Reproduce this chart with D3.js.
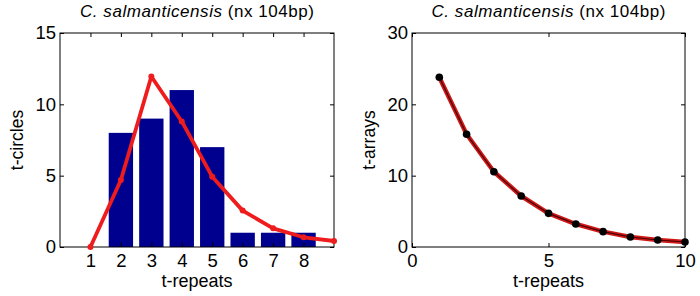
<!DOCTYPE html>
<html><head><meta charset="utf-8">
<script src="https://cdn.jsdelivr.net/npm/d3@7"></script>
<style>body{margin:0;background:#fff}svg{display:block}text{font-family:"Liberation Sans",Arial,sans-serif}</style>
</head><body>
<script>
const titleMain = "C. salmanticensis";
const titleSuffix = " (nx 104bp)";
// Left panel
const barCats = [1,2,3,4,5,6,7,8];
const barVals = [0,8,9,11,7,1,1,1];
const fitX = [1,2,3,4,5,6,7,8,9];
const fitY = [0,4.7,11.95,8.8,4.93,2.55,1.31,0.68,0.42];
const leftXTicks = [1,2,3,4,5,6,7,8];
const leftYTicks = [0,5,10,15];
// Right panel
const arrX = [1,2,3,4,5,6,7,8,9,10];
const arrY = [23.8,15.8,10.55,7.15,4.72,3.22,2.15,1.4,0.98,0.7];
const rightXTicks = [0,5,10];
const rightYTicks = [0,10,20,30];

const W=700,H=296;
const svg=d3.select("body").append("svg").attr("width",W).attr("height",H);
const plotTop=33,plotBottom=247;

function panel(x0,x1,xDom,yDom,xTicks,yTicks,ylabel){
  const g=svg.append("g");
  const x=d3.scaleLinear().domain(xDom).range([x0,x1]);
  const y=d3.scaleLinear().domain(yDom).range([plotBottom,plotTop]);
  const tl=4;
  const ax=g.append("g").attr("transform",`translate(0,${plotBottom})`).call(d3.axisBottom(x).tickValues(xTicks).tickSize(-tl).tickPadding(7).tickFormat(d3.format("d")));
  const ay=g.append("g").attr("transform",`translate(${x0},0)`).call(d3.axisLeft(y).tickValues(yTicks).tickSize(-tl).tickPadding(4).tickFormat(d3.format("d")));
  const axT=g.append("g").attr("transform",`translate(0,${plotTop})`).call(d3.axisTop(x).tickValues(xTicks).tickSize(-tl).tickFormat(""));
  const ayR=g.append("g").attr("transform",`translate(${x1},0)`).call(d3.axisRight(y).tickValues(yTicks).tickSize(-tl).tickFormat(""));
  [ax,ay,axT,ayR].forEach(a=>{a.select(".domain").remove();a.selectAll("line").attr("stroke","#000");a.selectAll("text").attr("font-size",18.5).attr("fill","#000").attr("font-family","Liberation Sans, Arial, sans-serif");});
  g.append("rect").attr("x",x0).attr("y",plotTop).attr("width",x1-x0).attr("height",plotBottom-plotTop).attr("fill","none").attr("stroke","#000").attr("stroke-width",1);
  const cx=(x0+x1)/2;
  const t=g.append("text").attr("x",cx).attr("y",17).attr("text-anchor","middle").attr("font-size",17)
    .attr("textLength",234).attr("lengthAdjust","spacing");
  t.append("tspan").attr("font-style","italic").text(titleMain);
  t.append("tspan").text(titleSuffix);
  g.append("text").attr("x",cx).attr("y",287).attr("text-anchor","middle").attr("font-size",18).text("t-repeats");
  g.append("text").attr("transform",`translate(${x0-37},${(plotTop+plotBottom)/2}) rotate(-90)`).attr("text-anchor","middle").attr("font-size",17.5).text(ylabel);
  return {g,x,y};
}

// Left
const L=panel(60,334,[0,9],[0,15],leftXTicks,leftYTicks,"t-circles");
const bw=(L.x(0.8)-L.x(0));
L.g.insert("g",":first-child").selectAll("rect").data(barCats.map((c,i)=>({c,v:barVals[i]}))).join("rect")
  .attr("x",d=>L.x(d.c)-bw/2).attr("width",bw)
  .attr("y",d=>L.y(d.v)).attr("height",d=>L.y(0)-L.y(d.v)).attr("fill","#00008f");
const fitData=fitX.map((xx,i)=>[xx,fitY[i]]);
const lineL=d3.line().x(d=>L.x(d[0])).y(d=>L.y(d[1]));
L.g.append("path").attr("d",lineL(fitData)).attr("fill","none").attr("stroke","#ee1c1c").attr("stroke-width",3.8).attr("stroke-linejoin","round");
L.g.selectAll("circle.f").data(fitData).join("circle").attr("class","f").attr("cx",d=>L.x(d[0])).attr("cy",d=>L.y(d[1])).attr("r",3).attr("fill","#ee1c1c");

// Right
const R=panel(412,685,[0,10],[0,30],rightXTicks,rightYTicks,"t-arrays");
const arrData=arrX.map((xx,i)=>[xx,arrY[i]]);
const lineR=d3.line().x(d=>R.x(d[0])).y(d=>R.y(d[1]));
R.g.append("path").attr("d",lineR(arrData)).attr("fill","none").attr("stroke","#d01818").attr("stroke-width",4.5).attr("stroke-linejoin","round");
R.g.append("path").attr("d",lineR(arrData)).attr("fill","none").attr("stroke","#400").attr("stroke-width",1.2).attr("stroke-linejoin","round");
R.g.selectAll("circle.a").data(arrData).join("circle").attr("class","a").attr("cx",d=>R.x(d[0])).attr("cy",d=>R.y(d[1])).attr("r",3.8).attr("fill","#000");
</script>
</body></html>
